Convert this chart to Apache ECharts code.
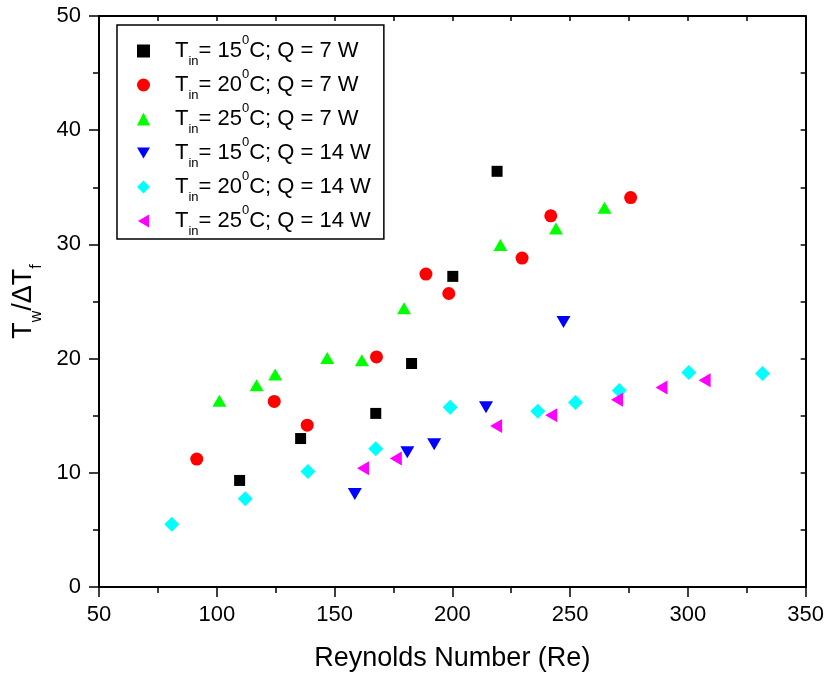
<!DOCTYPE html>
<html><head><meta charset="utf-8">
<script src="https://cdn.jsdelivr.net/npm/echarts@6/dist/echarts.min.js"></script>
<style>html,body{margin:0;padding:0;background:#fff}#c{width:827px;height:677px}</style>
</head><body><div id="c"></div>
<script>
// ---- data ----
const tinLabels = ['15', '20', '25', '15', '20', '25'];
const qLabels = ['7', '7', '7', '14', '14', '14'];

const re15q7 = [109.7, 135.6, 167.5, 182.7, 200.2, 219.0];
const ratio15q7 = [9.33, 13.0, 15.2, 19.57, 27.2, 36.4];

const re20q7 = [91.5, 124.4, 138.4, 167.8, 188.8, 198.5, 229.6, 241.8, 275.7];
const ratio20q7 = [11.2, 16.25, 14.17, 20.15, 27.4, 25.7, 28.8, 32.5, 34.1];

const re25q7 = [101.1, 116.9, 124.8, 146.9, 161.6, 179.5, 220.4, 244.0, 264.6];
const ratio25q7 = [16.3, 17.67, 18.6, 20.06, 19.86, 24.4, 29.95, 31.4, 33.2];

const re15q14 = [158.6, 180.9, 192.3, 214.3, 247.2];
const ratio15q14 = [8.14, 11.8, 12.5, 15.75, 23.2];

const re20q14 = [80.9, 112.1, 138.7, 167.5, 199.1, 236.3, 252.3, 270.9, 300.4, 331.7];
const ratio20q14 = [5.5, 7.73, 10.12, 12.1, 15.75, 15.4, 16.15, 17.2, 18.78, 18.7];

const re25q14 = [162.1, 176.0, 218.6, 242.0, 269.9, 288.8, 307.1];
const ratio25q14 = [10.4, 11.26, 14.1, 15.05, 16.4, 17.47, 18.1];

const xMin = 50, xMax = 350, xStep = 50;
const yMin = 0, yMax = 50, yStep = 10;

// ---- styles ----
const FONT = '"Liberation Sans", Arial, sans-serif';
const colors = ['#000000', '#ff0000', '#00ff00', '#0000ff', '#00ffff', '#ff00ff'];
const symbols = ['rect', 'circle', 'triangle', 'path://M0,0L14,0L7,12Z', 'diamond', 'path://M12,0L12,14L0,7Z'];
const sizes = [[11, 11], 13, [14, 12], [14, 12], [15, 15], [12, 14]];

const allRe = [re15q7, re20q7, re25q7, re15q14, re20q14, re25q14];
const allRatio = [ratio15q7, ratio20q7, ratio25q7, ratio15q14, ratio20q14, ratio25q14];

function zip(a, b) { return a.map((v, i) => [v, b[i]]); }
const names = tinLabels.map((t, i) => 'T' + t + 'Q' + qLabels[i]);

const series = names.map((n, i) => ({
  name: n,
  type: 'scatter',
  xAxisIndex: 0,
  yAxisIndex: 0,
  data: zip(allRe[i], allRatio[i]),
  symbol: symbols[i],
  symbolSize: sizes[i],
  itemStyle: { color: colors[i], opacity: 1 },
  emphasis: { disabled: true },
  z: 3 + i
}));

const chart = echarts.init(document.getElementById('c'), null, { renderer: 'canvas' });

const axisLine = { show: true, onZero: false, lineStyle: { color: '#000', width: 2 } };

chart.setOption({
  animation: false,
  backgroundColor: '#fff',
  textStyle: { fontFamily: FONT },
  grid: { left: 99, right: 19, top: 16, bottom: 90, containLabel: false },
  legend: {
    orient: 'vertical',
    left: 117,
    top: 25,
    padding: [9, 13, 1, 20],
    itemGap: 0,
    itemWidth: 13,
    itemHeight: 13,
    borderColor: '#000',
    borderWidth: 1.5,
    backgroundColor: '#fff',
    selectedMode: false,
    data: names,
    formatter: function (name) {
      const i = names.indexOf(name);
      return '{sp| }{m|T}{sub|in}{m|= ' + tinLabels[i] + '}{sup|0}{m|C; Q = ' + qLabels[i] + ' W}';
    },
    textStyle: {
      fontFamily: FONT,
      color: '#000',
      rich: {
        sp: { width: 20, fontSize: 10 },
        m: { fontSize: 22, lineHeight: 34, fontFamily: FONT, color: '#000' },
        sub: { fontSize: 13, lineHeight: 13, verticalAlign: 'bottom', fontFamily: FONT, color: '#000' },
        sup: { fontSize: 13, lineHeight: 22, verticalAlign: 'top', fontFamily: FONT, color: '#000' }
      }
    }
  },
  xAxis: [{
    type: 'value', position: 'bottom', min: xMin, max: xMax, interval: xStep,
    axisLine: axisLine,
    axisTick: { show: true, inside: false, length: 10, lineStyle: { color: '#000', width: 1.5 } },
    minorTick: { show: true, splitNumber: 2, length: 6, lineStyle: { color: '#000', width: 1.5 } },
    splitLine: { show: false },
    axisLabel: { show: true, color: '#000', fontSize: 22, fontFamily: FONT, margin: 17 },
    name: 'Reynolds Number (Re)',
    nameLocation: 'middle',
    nameGap: 58,
    nameTextStyle: { color: '#000', fontSize: 27, fontFamily: FONT }
  }, {
    type: 'value', position: 'top', min: xMin, max: xMax, interval: xStep / 2,
    axisLine: axisLine,
    axisTick: { show: true, inside: true, length: 5, lineStyle: { color: '#000', width: 1.5 } },
    splitLine: { show: false },
    axisLabel: { show: false }
  }],
  yAxis: [{
    type: 'value', position: 'left', min: yMin, max: yMax, interval: yStep,
    axisLine: axisLine,
    axisTick: { show: true, inside: false, length: 10, lineStyle: { color: '#000', width: 1.5 } },
    minorTick: { show: true, splitNumber: 2, length: 6, lineStyle: { color: '#000', width: 1.5 } },
    splitLine: { show: false },
    axisLabel: { show: true, color: '#000', fontSize: 22, fontFamily: FONT, margin: 18 },
    name: '{m|T}{s|w}{m|/ΔT}{s|f}',
    nameLocation: 'middle',
    nameGap: 54,
    nameTextStyle: {
      color: '#000', fontFamily: FONT,
      rich: {
        m: { fontSize: 27, lineHeight: 43, fontFamily: FONT, color: '#000' },
        s: { fontSize: 16, lineHeight: 16, verticalAlign: 'bottom', fontFamily: FONT, color: '#000' }
      }
    }
  }, {
    type: 'value', position: 'right', min: yMin, max: yMax, interval: yStep / 2,
    axisLine: axisLine,
    axisTick: { show: true, inside: true, length: 5, lineStyle: { color: '#000', width: 1.5 } },
    splitLine: { show: false },
    axisLabel: { show: false }
  }],
  series: series
});
</script>
</body></html>
